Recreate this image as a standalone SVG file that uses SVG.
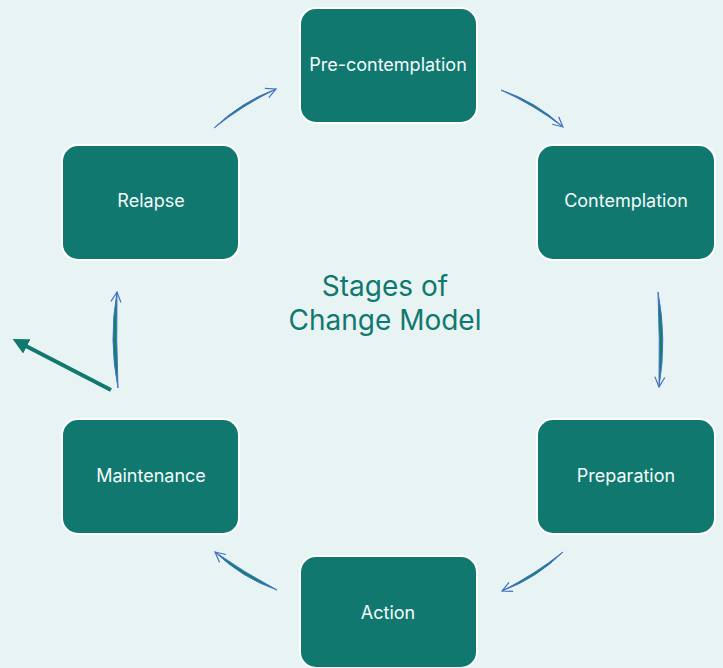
<svg xmlns="http://www.w3.org/2000/svg" width="723" height="668" viewBox="0 0 723 668">
<style>
.box{fill:#10786f;stroke:#ffffff;stroke-width:2}
.lbl{font-family:Inter,Roboto,"Liberation Sans",sans-serif;font-size:18px;fill:#f4fbfa;text-anchor:middle}
.title{font-family:Inter,Roboto,"Liberation Sans",sans-serif;font-size:28px;fill:#10786f;text-anchor:middle}
.lens{fill:#13806f;stroke:#4472c4;stroke-width:1}
.guide{fill:none;stroke:none;marker-end:url(#head)}
</style>
<defs>
<marker id="head" viewBox="0 0 12 12" refX="11" refY="6" markerWidth="12" markerHeight="12" markerUnits="userSpaceOnUse" orient="auto">
<path d="M1,1 L11,6 L1,11" fill="none" stroke="#4472c4" stroke-width="1.2"/>
</marker>
<marker id="bighead" viewBox="0 0 10 10" refX="2" refY="5" markerWidth="4" markerHeight="4" orient="auto">
<path d="M0,0 L10,5 L0,10 Z" fill="#10786f"/>
</marker>
</defs>
<rect width="723" height="668" fill="#e8f3f3"/>
<g id="connectors">
<g id="c1"><path class="lens" d="M214,128 Q241,102 276,89 Q243,105 214,128 Z"/><path class="guide" d="M242,103.5 L276,89"/></g>
<g id="c2"><path class="lens" d="M501,90 Q536,101.6 563,127 Q534,105 501,90 Z"/><path class="guide" d="M535,103 L563,127"/></g>
<g id="c3"><path class="lens" d="M658,292 Q667,339.5 659,387 Q660,339.5 658,292 Z"/><path class="guide" d="M663,339.5 L659,387"/></g>
<g id="c4"><path class="lens" d="M118,388 Q108.5,340 117,292 Q116,340 118,388 Z"/><path class="guide" d="M112,340 L117,292"/></g>
<g id="c5"><path class="lens" d="M563,552 Q536.8,578.3 502,591 Q534.5,574.5 563,552 Z"/><path class="guide" d="M535,576 L502,591"/></g>
<g id="c6"><path class="lens" d="M277,590 Q241.8,577.8 215,552 Q245,573 277,590 Z"/><path class="guide" d="M243,575 L215,552"/></g>
<g id="c7"><path d="M111,390 L24,345" fill="none" stroke="#10786f" stroke-width="4" marker-end="url(#bighead)"/></g>
</g>
<g id="n-precontemplation"><rect class="box" x="300" y="8" width="177" height="115" rx="16"/><text class="lbl" x="388" y="71">Pre-contemplation</text></g>
<g id="n-contemplation"><rect class="box" x="537" y="145" width="178" height="115" rx="16"/><text class="lbl" x="626" y="207">Contemplation</text></g>
<g id="n-preparation"><rect class="box" x="537" y="419" width="178" height="115" rx="16"/><text class="lbl" x="626" y="482">Preparation</text></g>
<g id="n-action"><rect class="box" x="300" y="556" width="177" height="112" rx="16"/><text class="lbl" x="388" y="619">Action</text></g>
<g id="n-maintenance"><rect class="box" x="62" y="419" width="177" height="115" rx="16"/><text class="lbl" x="151" y="482">Maintenance</text></g>
<g id="n-relapse"><rect class="box" x="62" y="145" width="177" height="115" rx="16"/><text class="lbl" x="151" y="207">Relapse</text></g>
<g id="title"><text class="title" x="385" y="296">Stages of</text><text class="title" x="385" y="330">Change Model</text></g>
</svg>
